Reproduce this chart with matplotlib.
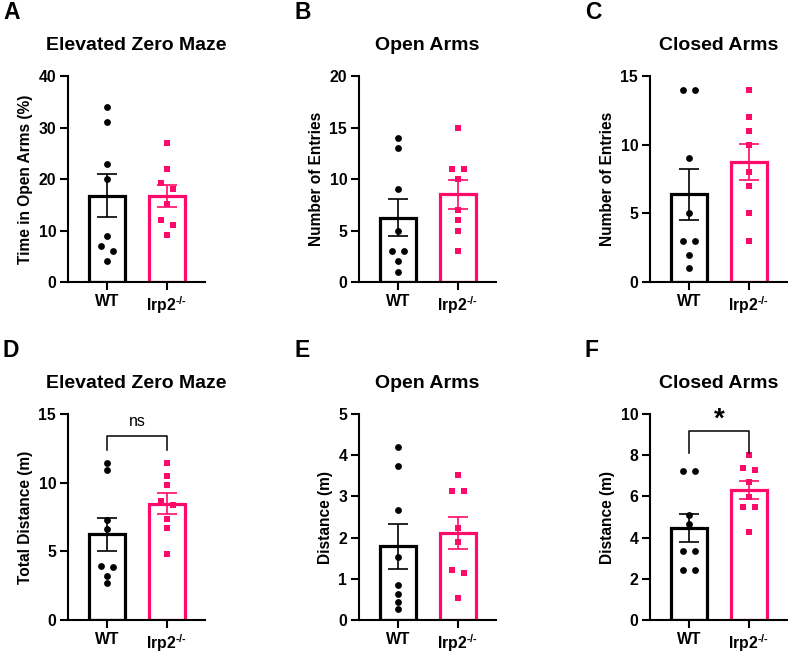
import numpy as np
import matplotlib
matplotlib.use('Agg')
import matplotlib.pyplot as plt

plt.rcParams['font.family'] = ['Liberation Sans', 'DejaVu Sans']
plt.rcParams['mathtext.fontset'] = 'custom'
plt.rcParams['mathtext.rm'] = 'Liberation Sans:bold'
plt.rcParams['mathtext.bf'] = 'Liberation Sans:bold'
plt.rcParams['mathtext.it'] = 'Liberation Sans:bold'

# ---------------- data ----------------
groups = ['WT', r'Irp2$^{\text{-/-}}$']

a_wt = [34, 31, 23, 20, 9, 7, 6, 4]
a_ko = [27, 22, 19.2, 18.1, 15.1, 12.1, 11.1, 9.1]
b_wt = [14, 13, 9, 5, 3, 3, 2, 1]
b_ko = [15, 11, 11, 10, 7, 6, 5, 3]
c_wt = [14, 14, 9, 5, 3, 3, 2, 1]
c_ko = [14, 12, 11, 10, 8, 7, 5, 3]
d_wt = [11.41, 10.95, 7.28, 6.6, 3.9, 3.86, 3.23, 2.67]
d_ko = [11.46, 10.49, 9.8, 8.7, 8.4, 7.35, 6.7, 4.8]
e_wt = [4.19, 3.75, 2.68, 1.54, 0.85, 0.64, 0.44, 0.26]
e_ko = [3.52, 3.14, 3.14, 2.24, 1.90, 1.21, 1.15, 0.53]
f_wt = [7.22, 7.22, 5.08, 4.68, 3.37, 3.37, 2.44, 2.44]
f_ko = [8.01, 7.38, 7.27, 6.72, 5.97, 5.5, 5.49, 4.29]

panel_data = [(a_wt, a_ko), (b_wt, b_ko), (c_wt, c_ko),
              (d_wt, d_ko), (e_wt, e_ko), (f_wt, f_ko)]
titles = ['Elevated Zero Maze', 'Open Arms', 'Closed Arms',
          'Elevated Zero Maze', 'Open Arms', 'Closed Arms']
ylabels = ['Time in Open Arms (%)', 'Number of Entries', 'Number of Entries',
           'Total Distance (m)', 'Distance (m)', 'Distance (m)']
letters = ['A', 'B', 'C', 'D', 'E', 'F']
ymaxes = [40, 20, 15, 15, 5, 10]
ysteps = [10, 5, 5, 5, 1, 2]
# significance annotations: panel index -> (label, bracket level, leg level)
sig = {3: ('ns', 13.38, 12.4), 5: ('*', 9.16, 8.1)}

# ---------------- style ----------------
BLACK = '#000000'
PINK = '#FF0A6A'
colors = [BLACK, PINK]
markers = ['o', 's']

W, H = 790, 654
fig = plt.figure(figsize=(W / 100, H / 100), dpi=100)

col_left = [68, 359, 650]
row_bottom = [282, 620]   # pixel y of the zero line
ax_w, ax_h = 137, 206


def swarm_offsets(vals, px_per_unit, x_px_per_unit, thresh_px=6.0, step_px=12.0):
    vals = np.asarray(vals, dtype=float)
    order = np.argsort(-vals, kind='stable')
    clusters = []
    for idx in order:
        if clusters and (vals[clusters[-1][-1]] - vals[idx]) * px_per_unit < thresh_px:
            clusters[-1].append(idx)
        else:
            clusters.append([idx])
    off = np.zeros(len(vals))
    for cl in clusters:
        k = len(cl)
        for i, idx in enumerate(cl):
            off[idx] = (i - (k - 1) / 2) * step_px / x_px_per_unit
    return off


for p in range(6):
    r, c = divmod(p, 3)
    left = col_left[c] / W
    bottom = 1 - row_bottom[r] / H
    ax = fig.add_axes([left, bottom, ax_w / W, ax_h / H])
    xlim = (-0.66, 1.64)
    ymax = ymaxes[p]
    ax.set_xlim(*xlim)
    ax.set_ylim(0, ymax)
    px_per_unit = ax_h / ymax
    x_px_per_unit = ax_w / (xlim[1] - xlim[0])

    for g, vals in enumerate(panel_data[p]):
        v = np.asarray(vals, dtype=float)
        mean = v.mean()
        sem = v.std(ddof=1) / np.sqrt(len(v))
        ax.bar(g, mean, width=0.6, facecolor='white', edgecolor=colors[g],
               linewidth=2.3, zorder=2)
        ax.errorbar(g, mean, yerr=sem, color=colors[g], capsize=7,
                    elinewidth=1.2, capthick=1.2, zorder=3)
        offs = swarm_offsets(v, px_per_unit, x_px_per_unit)
        ax.plot(g + offs, v, linestyle='none', marker=markers[g],
                color=colors[g], markersize=4.9, markeredgewidth=0, zorder=4,
                clip_on=False)

    ax.spines['top'].set_visible(False)
    ax.spines['right'].set_visible(False)
    for s in ('left', 'bottom'):
        ax.spines[s].set_linewidth(1.5)
    ax.set_yticks(np.arange(0, ymax + 1e-9, ysteps[p]))
    ax.set_xticks([0, 1])
    ax.set_xticklabels(groups)
    ax.tick_params(axis='both', width=1.5, length=5.5, labelsize=11.3, pad=3)
    ax.tick_params(axis='x', pad=3)
    for lab in ax.get_yticklabels() + ax.get_xticklabels():
        lab.set_fontweight('bold')
    ax.set_ylabel(ylabels[p], fontsize=11.2, fontweight='bold', labelpad=4)
    ax.set_title(titles[p], fontsize=14, fontweight='bold', pad=18.5)

    if p in sig:
        label, top, leg = sig[p]
        ax.plot([0, 0, 1, 1], [leg, top, top, leg], color='black', lw=1.1,
                clip_on=False, zorder=5)
        if label == '*':
            ax.text(0.5, top - 0.005 * ymax, label, ha='center', va='bottom',
                    fontsize=20, fontweight='bold')
        else:
            ax.text(0.5, top + 0.035 * ymax, label, ha='center', va='bottom',
                    fontsize=11.5)

    # panel letter
    lx = (col_left[c] - 65) / W
    ly = 1 - ((row_bottom[r] - ax_h) - 75) / H
    fig.text(lx, ly, letters[p], fontsize=16.5, fontweight='bold', ha='left', va='top')

fig.savefig('out.png', dpi=100)
